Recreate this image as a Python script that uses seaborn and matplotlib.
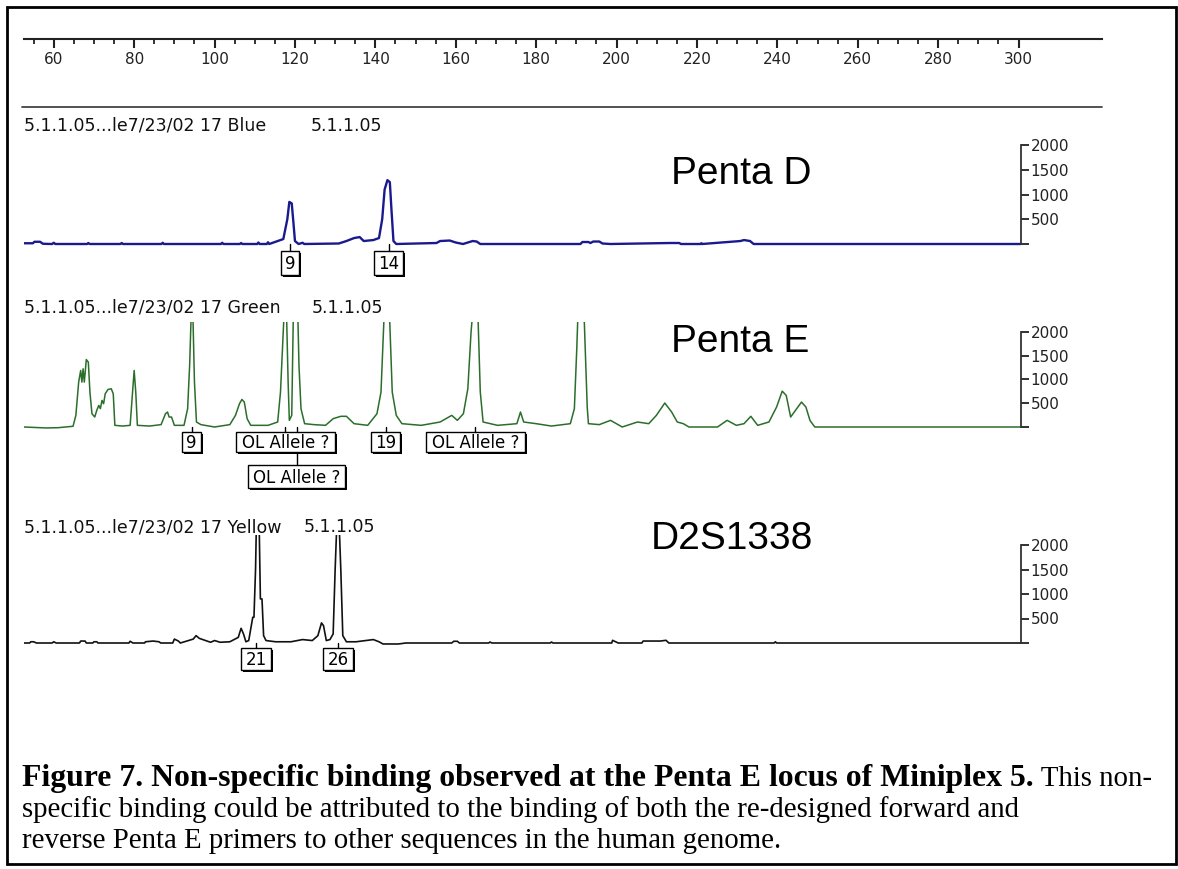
import matplotlib
matplotlib.use("Agg")
import matplotlib.pyplot as plt
import seaborn as sns
from matplotlib.lines import Line2D
from matplotlib.patches import Rectangle

W, H = 1178, 869
sns.set_theme(style="white")
plt.rcParams['font.family'] = ['DejaVu Sans']

# ---------------- data (base pairs / RFU) ----------------
ruler_major = [60, 80, 100, 120, 140, 160, 180, 200, 220, 240, 260, 280, 300]
ruler_minor = [55, 65, 70, 75, 85, 90, 95, 105, 110, 115, 125, 130, 135, 145, 150, 155,
               165, 170, 175, 185, 190, 195, 205, 210, 215, 225, 230, 235, 245, 250, 255,
               265, 270, 275, 285, 290, 295]
rfu_ticks = [0, 500, 1000, 1500, 2000]
rfu_ticklabels = ['', '500', '1000', '1500', '2000']

blue_bp = [52.6, 54.8, 55.2, 56.6, 57.3, 59.6, 60.0, 60.4, 68.3, 68.6, 68.9, 76.6, 76.9, 77.2,
           86.8, 87.1, 87.4, 101.6, 101.9, 102.2, 106.3, 106.6, 106.9, 110.6, 110.9, 111.2,
           113.0, 113.3, 113.6, 117.1, 118.1, 118.6, 119.2, 119.6, 120.0, 120.9, 121.9, 122.3,
           130.9, 132.8, 134.7, 136.1, 137.1, 139.5, 140.9, 141.7, 142.3, 143.0, 143.6, 144.0,
           144.5, 145.2, 155.2, 156.1, 158.5, 160.0, 161.8, 164.2, 165.2, 166.1, 191.0, 191.5,
           193.0, 193.5, 194.2, 195.7, 196.5, 198.5, 213.2, 215.6, 216.0, 221.0, 221.1, 221.3,
           230.8, 231.7, 233.2, 234.1, 300.6]
blue_rfu = [15, 15, 45, 45, 5, 0, 25, 0, 0, 20, 0, 0, 20, 0,
            0, 25, 0, 0, 25, 0, 0, 20, 0, 0, 30, 0,
            0, 35, 0, 100, 500, 850, 820, 450, 60, 0, 25, 0,
            10, 60, 120, 140, 60, 80, 120, 500, 1100, 1290, 1250, 700,
            60, 0, 20, 60, 70, 30, 0, 60, 50, 0, 0, 40,
            40, 20, 50, 50, 10, 0, 20, 20, 0, 0, 15, 0,
            60, 80, 60, 0, 0]

green_bp = [52.6, 58.1, 61.0, 64.8, 65.5, 66.2, 66.7, 67.0, 67.3, 67.6, 68.1, 68.6, 69.0, 69.5,
            70.2, 70.7, 71.2, 71.6, 72.0, 72.4, 72.8, 73.5, 74.3, 74.8, 75.2, 77.1, 79.0, 79.6,
            80.0, 80.4, 80.8, 83.8, 86.7, 87.8, 88.3, 88.7, 89.3, 90.0, 92.4, 93.3, 93.8, 94.2,
            94.6, 95.0, 95.5, 96.6, 100.0, 103.8, 105.2, 106.2, 106.8, 107.4, 108.1, 109.0,
            113.3, 115.7, 116.4, 116.9, 117.3, 117.9, 118.3, 118.6, 119.2, 119.6, 120.7, 121.0,
            121.5, 122.4, 124.7, 127.6, 129.5, 131.4, 132.8, 134.7, 138.1, 140.4, 141.4, 142.2,
            143.5, 144.2, 145.2, 146.6, 151.4, 156.1, 159.0, 160.4, 161.9, 163.0, 163.8, 164.2,
            165.5, 166.1, 166.8, 170.4, 175.2, 176.1, 176.9, 180.0, 183.8, 188.5, 189.5, 190.1,
            190.4, 191.9, 192.7, 193.0, 195.7, 198.5, 201.4, 205.2, 208.0, 209.9, 212.0, 213.7,
            215.1, 216.6, 218.0, 225.1, 227.5, 229.8, 231.7, 233.4, 235.1, 237.9, 239.8, 241.2,
            242.2, 243.3, 244.5, 246.0, 247.1, 248.1, 249.3, 300.6]
green_rfu = [0, -20, -15, 15, 245, 945, 1190, 945, 1225, 945, 1420, 1365, 735, 280,
             210, 350, 455, 385, 560, 490, 700, 790, 805, 700, 35, 20, 35, 735,
             1190, 735, 35, 20, 50, 280, 315, 210, 210, 35, 35, 385, 1295, 2400,
             2400, 945, 105, 50, 0, 50, 245, 490, 580, 525, 175, 35,
             35, 105, 735, 1645, 2400, 2400, 945, 140, 245, 2400, 2400, 1295,
             385, 70, 50, 35, 175, 225, 225, 70, 35, 280, 735, 2400,
             2400, 735, 245, 70, 35, 105, 245, 140, 280, 805, 1995, 2400,
             2400, 735, 105, 35, 70, 315, 105, 70, 20, 70, 385, 1645,
             2400, 2400, 420, 70, 50, 140, 0, 105, 70, 245, 505, 315,
             105, 70, 0, 0, 140, 35, 70, 225, 35, 105, 420, 755,
             665, 210, 350, 525, 420, 140, 0, 0]

yellow_bp = [52.6, 54.0, 54.3, 55.0, 55.7, 59.6, 60.0, 60.6, 66.4, 66.7, 67.8, 68.1, 69.7, 70.0,
             70.7, 71.0, 78.7, 79.0, 79.7, 82.6, 82.8, 84.7, 86.2, 86.6, 89.6, 90.0, 91.0, 91.5,
             94.7, 95.4, 96.2, 97.6, 99.0, 100.0, 101.4, 103.8, 105.9, 106.6, 107.2, 107.8,
             108.5, 109.5, 109.8, 110.2, 110.4, 111.1, 111.4, 111.8, 112.2, 112.8, 115.2, 119.0,
             121.9, 124.3, 125.7, 126.6, 127.1, 127.8, 128.7, 129.5, 130.0, 130.4, 131.0, 131.4,
             131.9, 132.8, 135.2, 139.5, 140.9, 141.9, 145.7, 147.6, 159.0, 159.5, 160.4, 160.9,
             168.2, 168.5, 169.0, 183.5, 183.8, 184.2, 198.8, 199.0, 200.4, 206.3, 206.6, 210.9,
             212.3, 213.0, 239.2, 239.5, 239.8, 300.6]
yellow_rfu = [0, 0, 25, 25, 0, 0, 25, 0, 0, 40, 40, 0, 0, 25,
              25, 0, 0, 35, 0, 0, 25, 40, 25, 0, 0, 80, 40, 0,
              80, 150, 95, 55, 15, 50, 15, 25, 115, 300, 185, 25,
              50, 525, 525, 1510, 2400, 2400, 900, 900, 150, 50, 25, 25,
              70, 50, 150, 410, 355, 50, 70, 185, 1510, 2400, 2400, 1510,
              150, 25, 25, 70, 25, -20, -20, 0, 0, 35, 35, 0,
              0, 20, 0, 0, 20, 0, 0, 55, 0, 0, 40, 40,
              55, 0, 0, 25, 0, 0]

blue_allele_bp = [118.8, 143.3]
blue_allele_lab = ['9', '14']
green_allele_bp = [94.3, 117.6, 142.6, 164.9]
green_allele_lab = ['9', 'OL Allele ?', '19', 'OL Allele ?']
green_allele2_bp = [120.4]
green_allele2_lab = ['OL Allele ?']
yellow_allele_bp = [110.3, 130.7]
yellow_allele_lab = ['21', '26']

headers = ['5.1.1.05...le7/23/02 17 Blue', '5.1.1.05...le7/23/02 17 Green',
           '5.1.1.05...le7/23/02 17 Yellow']
header_tail = '5.1.1.05'
loci = ['Penta D', 'Penta E', 'D2S1338']

caption_bold = 'Figure 7. Non-specific binding observed at the Penta E locus of Miniplex 5.'
caption_l1 = ' This non-'
caption_l2 = 'specific binding could be attributed to the binding of both the re-designed forward and'
caption_l3 = 'reverse Penta E primers to other sequences in the human genome.'

# ---------------- layout helpers (pixel positions) ----------------
fig = plt.figure(figsize=(W / 100, H / 100), dpi=100)
fig.patch.set_facecolor('white')


def fx(px):
    return px / W


def fy(py):
    return 1 - py / H


X0_PX, X1_PX = 24, 1021
BP0, BP1 = 52.6, 300.6
PXU = (X1_PX - X0_PX) / (BP1 - BP0)


def bp2px(b):
    return X0_PX + (b - BP0) * PXU


def add_panel(baseline_px, top2000_px, clip_px, ymin=-150):
    s = (baseline_px - top2000_px) / 2000.0
    ymax = (baseline_px - clip_px) / s
    bottom_px = baseline_px - ymin * s
    ax = fig.add_axes([fx(X0_PX), fy(bottom_px), (X1_PX - X0_PX) / W, (bottom_px - clip_px) / H])
    ax.set_xlim(BP0, BP1)
    ax.set_ylim(ymin, ymax)
    ax.set_facecolor('none')
    for side in ['top', 'left', 'bottom']:
        ax.spines[side].set_visible(False)
    ax.spines['right'].set_visible(True)
    ax.spines['right'].set_bounds(0, 2000)
    ax.spines['right'].set_color('#333333')
    ax.spines['right'].set_linewidth(1.3)
    ax.yaxis.tick_right()
    ax.set_yticks(rfu_ticks)
    ax.set_yticklabels(rfu_ticklabels)
    ax.tick_params(axis='y', direction='out', length=6, width=1.3, pad=1,
                   labelsize=11, colors='#222222', right=True, left=False)
    ax.set_xticks([])
    ax.grid(False)
    ax.set_xlabel('')
    ax.set_ylabel('')
    return ax


# ---------------- ruler ----------------
axr = fig.add_axes([fx(X0_PX), fy(39), (1102 - X0_PX) / W, 1 / H])
axr.set_xlim(BP0, BP0 + (1102 - X0_PX) / PXU)
axr.set_ylim(0, 1)
axr.set_facecolor('none')
for side in ['top', 'left', 'right']:
    axr.spines[side].set_visible(False)
axr.spines['bottom'].set_visible(True)
axr.spines['bottom'].set_color('#222222')
axr.spines['bottom'].set_linewidth(1.5)
axr.set_xticks(ruler_major)
axr.set_xticklabels([str(v) for v in ruler_major])
axr.set_xticks(ruler_minor, minor=True)
axr.set_yticks([])
axr.tick_params(axis='x', which='major', direction='out', length=6.5, width=1.5,
                pad=3, labelsize=11, colors='#222222', bottom=True)
axr.tick_params(axis='x', which='minor', direction='out', length=3.5, width=1.3,
                colors='#222222', bottom=True)
axr.grid(False)

fig.add_artist(Line2D([fx(22), fx(1102)], [fy(107), fy(107)], transform=fig.transFigure,
                      color='#444444', lw=1.3))

# ---------------- panels ----------------
panels = [
    dict(base=244, top=145, clip=135, bp=blue_bp, rfu=blue_rfu, color='#1a1a8e', lw=1.7,
         head_y=131, tail_x=311, locus_x=671, locus_y=184),
    dict(base=427, top=332, clip=322, bp=green_bp, rfu=green_rfu, color='#2b6e2b', lw=1.1,
         head_y=313, tail_x=312, locus_x=671, locus_y=352),
    dict(base=643, top=545, clip=535, bp=yellow_bp, rfu=yellow_rfu, color='#111111', lw=1.2,
         head_y=532, tail_x=304, locus_x=651, locus_y=549),
]

axes = []
for i, p in enumerate(panels):
    ax = add_panel(p['base'], p['top'], p['clip'])
    sns.lineplot(x=p['bp'], y=p['rfu'], ax=ax, color=p['color'], linewidth=p['lw'],
                 estimator=None, sort=False, legend=False)
    ax.set_xlabel('')
    ax.set_ylabel('')
    axes.append(ax)
    fig.text(fx(24), fy(p['head_y']), headers[i], fontsize=12.5, va='baseline', ha='left',
             color='#111111')
    fig.text(fx(p['tail_x']), fy(p['head_y']), header_tail, fontsize=12.5, va='baseline',
             ha='left', color='#111111')
    fig.text(fx(p['locus_x']), fy(p['locus_y']), loci[i], fontsize=28, va='baseline',
             ha='left', family=['Liberation Sans'], color='black')

renderer = fig.canvas.get_renderer()


def allele_box(xbp, label, baseline_px, top_px, h_px, fs=12, padx=5):
    xpx = bp2px(xbp)
    fig.add_artist(Line2D([fx(xpx), fx(xpx)], [fy(baseline_px), fy(top_px)],
                          transform=fig.transFigure, color='black', lw=1.0, zorder=2))
    cap = 0.73 * fs * 100 / 72
    t = fig.text(fx(xpx), fy(top_px + h_px / 2 + cap / 2), label, fontsize=fs, ha='center',
                 va='baseline', color='black', zorder=3.3)
    bb = t.get_window_extent(renderer)
    w = bb.width + 2 * padx
    x0 = xpx - w / 2
    fig.add_artist(Rectangle((fx(x0 + 2), fy(top_px + h_px + 2)), w / W, h_px / H,
                             transform=fig.transFigure, fc='black', ec='black', lw=0,
                             zorder=3.0))
    fig.add_artist(Rectangle((fx(x0), fy(top_px + h_px)), w / W, h_px / H,
                             transform=fig.transFigure, fc='white', ec='black', lw=1.0,
                             zorder=3.1))


for b, lab in zip(green_allele2_bp, green_allele2_lab):
    allele_box(b, lab, 427, 465, 23)
for b, lab in zip(blue_allele_bp, blue_allele_lab):
    allele_box(b, lab, 244, 251, 24, padx=4)
for b, lab in zip(green_allele_bp, green_allele_lab):
    allele_box(b, lab, 427, 432, 20, padx=4 if len(lab) < 3 else 6)
for b, lab in zip(yellow_allele_bp, yellow_allele_lab):
    allele_box(b, lab, 643, 648, 22, padx=4)

# ---------------- caption ----------------
SERIF = ['Liberation Serif']
fs0 = 18.0
# regular text size: last line ends near x=785 px
tmp = fig.text(0, 0, caption_l3, fontsize=fs0, family=SERIF)
w3 = tmp.get_window_extent(renderer).width
tmp.remove()
reg_fs = fs0 * (785 - 22) / w3
# bold lead-in size: first line ends near x=1150 px
tmp = fig.text(0, 0, caption_l1, fontsize=reg_fs, family=SERIF)
w1r = tmp.get_window_extent(renderer).width
tmp.remove()
tmp = fig.text(0, 0, caption_bold, fontsize=fs0, fontweight='bold', family=SERIF)
wb = tmp.get_window_extent(renderer).width
tmp.remove()
bold_fs = fs0 * (1150 - 22 - w1r) / wb

cap_base = [786, 817, 848]
t1 = fig.text(fx(22), fy(cap_base[0]), caption_bold, fontsize=bold_fs, fontweight='bold',
              family=SERIF, va='baseline', ha='left', color='black')
bb1 = t1.get_window_extent(renderer)
fig.text(bb1.x1 / W, fy(cap_base[0]), caption_l1, fontsize=reg_fs, family=SERIF,
         va='baseline', ha='left', color='black')
fig.text(fx(22), fy(cap_base[1]), caption_l2, fontsize=reg_fs, family=SERIF,
         va='baseline', ha='left', color='black')
fig.text(fx(22), fy(cap_base[2]), caption_l3, fontsize=reg_fs, family=SERIF,
         va='baseline', ha='left', color='black')

# ---------------- frame ----------------
fig.add_artist(Rectangle((fx(7), fy(864)), (1176 - 7) / W, (864 - 7) / H,
                         transform=fig.transFigure, fill=False, ec='black', lw=2.0))

fig.savefig('out.png', dpi=100, facecolor='white')
